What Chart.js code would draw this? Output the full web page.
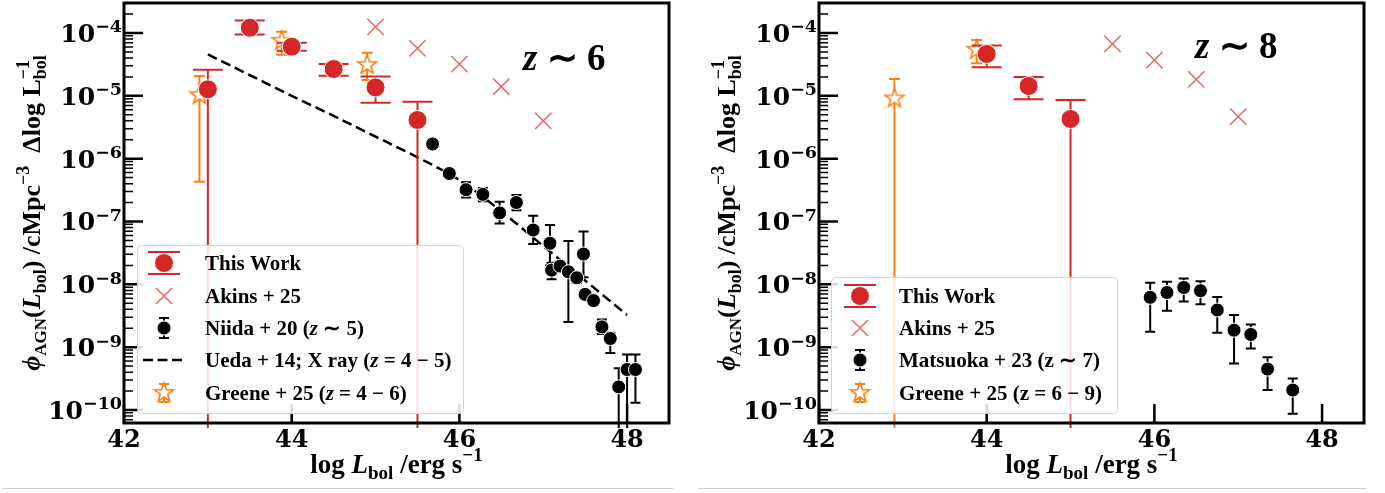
<!DOCTYPE html>
<html>
<head>
<meta charset="utf-8">
<title>AGN bolometric luminosity functions</title>
<script src="https://cdn.jsdelivr.net/npm/chart.js@4.4.1/dist/chart.umd.min.js"></script>
<style>
  body { margin: 0; background: #fff; }
  #wrap { position: relative; width: 1385px; height: 493px; overflow: hidden; }
  canvas { position: absolute; top: 0; }
  #lf6 { left: 0; }
  #lf8 { left: 690px; }
  .rule { position: absolute; top: 488px; height: 0; border-top: 1px solid #cfcfcf; }
</style>
</head>
<body>
<div id="wrap">
  <canvas id="lf6" width="690" height="493"></canvas>
  <canvas id="lf8" width="695" height="493"></canvas>
  <div class="rule" style="left:3px;width:670px"></div>
  <div class="rule" style="left:698px;width:669px"></div>
</div>
<script>
// axes
const xTicks = [42, 44, 46, 48];
const yTicks = [1e-4, 1e-5, 1e-6, 1e-7, 1e-8, 1e-9, 1e-10];
const xRange = [42, 48.5];
const yRange = [6.2e-11, 3.0e-4];

// ---- z ~ 6 panel ----
const thisL6 = [43.0, 43.5, 44.0, 44.5, 45.0, 45.5];
const thisPhi6 = [1.27e-5, 1.21e-4, 6.05e-5, 2.67e-5, 1.36e-5, 4.12e-6];
const thisUp6 = [2.6e-5, 1.58e-4, 7.0e-5, 3.2e-5, 2.02e-5, 8.05e-6];
const thisLo6 = [0, 9.5e-5, 5.2e-5, 2.09e-5, 7.76e-6, 0];   // 0 = open down to the axis

const akinsL6 = [45.0, 45.5, 46.0, 46.5, 47.0];
const akinsPhi6 = [1.25e-4, 5.7e-5, 3.2e-5, 1.4e-5, 4.0e-6];

const greeneL6 = [42.9, 43.88, 44.9];
const greenePhi6 = [1.03e-5, 7.5e-5, 3.1e-5];
const greeneUp6 = [2.07e-5, 1.05e-4, 4.85e-5];
const greeneLo6 = [4.3e-7, 4.5e-5, 1.79e-5];

const niidaL = [45.68, 45.88, 46.08, 46.28, 46.48, 46.68, 46.88, 47.08, 47.10, 47.20,
                47.30, 47.40, 47.48, 47.50, 47.60, 47.70, 47.80, 47.90, 48.00, 48.10];
const niidaPhi = [1.71e-6, 5.8e-7, 3.2e-7, 2.7e-7, 1.37e-7, 2.0e-7, 7.3e-8, 4.5e-8, 1.68e-8, 1.95e-8,
                  1.58e-8, 1.27e-8, 3.03e-8, 6.9e-9, 5.5e-9, 2.1e-9, 1.37e-9, 2.33e-10, 4.4e-10, 4.4e-10];
const niidaUp = [1.9e-6, 6.4e-7, 4.2e-7, 3.4e-7, 2.06e-7, 2.63e-7, 1.23e-7, 8.8e-8, 2.2e-8, 2.3e-8,
                 4.9e-8, 1.5e-8, 6.9e-8, 8.0e-9, 6.3e-9, 2.75e-9, 1.7e-9, 4.6e-10, 7.65e-10, 7.65e-10];
const niidaLo = [1.5e-6, 5.2e-7, 2.4e-7, 2.1e-7, 9.3e-8, 1.51e-7, 4.37e-8, 2.0e-8, 1.2e-8, 1.6e-8,
                 2.5e-9, 1.05e-8, 1.3e-8, 6.0e-9, 4.7e-9, 1.62e-9, 8.1e-10, 0, 0, 1.3e-10];

const uedaL = [43.0, 43.5, 44.0, 44.5, 45.0, 45.5, 46.0, 46.5, 47.0, 47.5, 48.0];
const uedaPhi = [4.57e-5, 2.14e-5, 1.0e-5, 4.79e-6, 2.24e-6, 1.05e-6, 4.57e-7, 1.45e-7, 4.07e-8, 1.15e-8, 3.24e-9];

// ---- z ~ 8 panel ----
const thisL8 = [44.0, 44.5, 45.0];
const thisPhi8 = [4.63e-5, 1.43e-5, 4.28e-6];
const thisUp8 = [6.3e-5, 2.0e-5, 8.6e-6];
const thisLo8 = [2.84e-5, 8.8e-6, 0];

const akinsL8 = [45.5, 46.0, 46.5, 47.0];
const akinsPhi8 = [6.7e-5, 3.7e-5, 1.83e-5, 4.66e-6];

const greeneL8 = [42.9, 43.88];
const greenePhi8 = [9.1e-6, 5.4e-5];
const greeneUp8 = [1.85e-5, 7.7e-5];
const greeneLo8 = [0, 3.3e-5];

const matsL = [45.95, 46.15, 46.35, 46.55, 46.75, 46.95, 47.15, 47.35, 47.65];
const matsPhi = [6.2e-9, 7.4e-9, 8.9e-9, 7.9e-9, 3.9e-9, 1.86e-9, 1.59e-9, 4.47e-10, 2.07e-10];
const matsUp = [1.06e-8, 1.1e-8, 1.24e-8, 1.12e-8, 6.3e-9, 3.24e-9, 2.3e-9, 6.9e-10, 3.16e-10];
const matsLo = [1.75e-9, 3.8e-9, 5.3e-9, 4.8e-9, 1.69e-9, 5.5e-10, 9.5e-10, 2.07e-10, 8.7e-11];

const RED = '#d62728';
const CROSS = 'rgba(214,39,40,0.7)';
const ORANGE = '#ff7f0e';
const SERIF = '"Liberation Serif", "Times New Roman", serif';
const TICKFONT = '"DejaVu Serif", serif';

function pts(xs, ys) {
    return xs.map((x, i) => ({ x: x, y: ys[i] }));
}

function makeStar(r) {
    const size = Math.ceil(2 * r + 6);
    const c = document.createElement('canvas');
    c.width = size; c.height = size;
    const g = c.getContext('2d');
    g.translate(size / 2, size / 2);
    g.beginPath();
    for (let i = 0; i < 10; i++) {
        const rr = i % 2 ? r * 0.4 : r;
        const a = -Math.PI / 2 + i * Math.PI / 5;
        g.lineTo(rr * Math.cos(a), rr * Math.sin(a));
    }
    g.closePath();
    g.fillStyle = '#fff';
    g.fill();
    g.strokeStyle = ORANGE;
    g.lineWidth = 1.6;
    g.stroke();
    return c;
}
const starImg = makeStar(10);

function fnt(s, italic, fam) {
    return (italic ? 'italic ' : '') + 'bold ' + s + 'px ' + (fam || SERIF);
}

// lay out a run of text pieces (sub/superscripts via dy, "back" stacks on the previous piece)
function layoutRich(ctx, segs) {
    let end = 0, prev = 0;
    const out = [];
    segs.forEach(g => {
        ctx.font = fnt(g.s, g.i, g.f);
        const w = ctx.measureText(g.t).width;
        const sx = g.back ? prev : end;
        out.push({ g: g, sx: sx });
        prev = sx;
        end = Math.max(end, sx + w);
    });
    return { out: out, width: end };
}

function drawRich(ctx, x, y, segs, align) {
    const lay = layoutRich(ctx, segs);
    let x0 = x;
    if (align === 'center') x0 = x - lay.width / 2;
    if (align === 'right') x0 = x - lay.width;
    ctx.textAlign = 'left';
    ctx.textBaseline = 'alphabetic';
    lay.out.forEach(o => {
        ctx.font = fnt(o.g.s, o.g.i, o.g.f);
        ctx.fillText(o.g.t, x0 + o.sx, y + (o.g.dy || 0));
    });
}

// error bars are drawn right before their own dataset
const errorBarPlugin = {
    id: 'errorBars',
    beforeDatasetDraw(chart, args) {
        const ds = chart.data.datasets[args.index];
        const eb = ds.errorBars;
        if (!eb) return;
        const ctx = chart.ctx, a = chart.chartArea;
        const xs = chart.scales.x, ys = chart.scales.y;
        ctx.save();
        ctx.beginPath();
        ctx.rect(a.left, a.top, a.right - a.left, a.bottom - a.top + 5);
        ctx.clip();
        ctx.strokeStyle = eb.color;
        ctx.lineWidth = eb.width;
        ds.data.forEach((p, i) => {
            const px = xs.getPixelForValue(p.x);
            const top = ys.getPixelForValue(eb.up[i]);
            const open = !(eb.lo[i] > 0);
            const bot = open ? a.bottom + 5 : ys.getPixelForValue(eb.lo[i]);
            ctx.beginPath();
            ctx.moveTo(px, top);
            ctx.lineTo(px, bot);
            ctx.moveTo(px - eb.cap, top);
            ctx.lineTo(px + eb.cap, top);
            if (!open) {
                ctx.moveTo(px - eb.cap, bot);
                ctx.lineTo(px + eb.cap, bot);
            }
            ctx.stroke();
        });
        ctx.restore();
    }
};

function legendMark(ctx, kind, x, y) {
    ctx.save();
    if (kind === 'this') {
        ctx.strokeStyle = RED; ctx.lineWidth = 2;
        ctx.beginPath();
        ctx.moveTo(x, y - 11); ctx.lineTo(x, y + 11);
        ctx.moveTo(x - 16, y - 11); ctx.lineTo(x + 16, y - 11);
        ctx.moveTo(x - 16, y + 11); ctx.lineTo(x + 16, y + 11);
        ctx.stroke();
        ctx.beginPath(); ctx.arc(x, y, 9.5, 0, Math.PI * 2);
        ctx.fillStyle = RED; ctx.fill();
        ctx.strokeStyle = '#fff'; ctx.lineWidth = 1; ctx.stroke();
    } else if (kind === 'akins') {
        ctx.strokeStyle = CROSS; ctx.lineWidth = 1.5;
        ctx.beginPath();
        ctx.moveTo(x - 8, y - 8); ctx.lineTo(x + 8, y + 8);
        ctx.moveTo(x - 8, y + 8); ctx.lineTo(x + 8, y - 8);
        ctx.stroke();
    } else if (kind === 'black') {
        ctx.strokeStyle = '#000'; ctx.lineWidth = 2;
        ctx.beginPath();
        ctx.moveTo(x, y - 10); ctx.lineTo(x, y + 10);
        ctx.moveTo(x - 5, y - 10); ctx.lineTo(x + 5, y - 10);
        ctx.moveTo(x - 5, y + 10); ctx.lineTo(x + 5, y + 10);
        ctx.stroke();
        ctx.beginPath(); ctx.arc(x, y, 7, 0, Math.PI * 2);
        ctx.fillStyle = '#000'; ctx.fill();
        ctx.strokeStyle = '#fff'; ctx.lineWidth = 1; ctx.stroke();
    } else if (kind === 'dash') {
        ctx.strokeStyle = '#000'; ctx.lineWidth = 2.5;
        ctx.setLineDash([10, 4.5]);
        ctx.beginPath(); ctx.moveTo(x - 21, y); ctx.lineTo(x + 19, y); ctx.stroke();
    } else if (kind === 'star') {
        ctx.strokeStyle = ORANGE; ctx.lineWidth = 2;
        ctx.beginPath();
        ctx.moveTo(x, y - 9); ctx.lineTo(x, y + 9);
        ctx.moveTo(x - 5, y - 9); ctx.lineTo(x + 5, y - 9);
        ctx.moveTo(x - 5, y + 9); ctx.lineTo(x + 5, y + 9);
        ctx.stroke();
        ctx.drawImage(starImg, x - starImg.width / 2, y - starImg.height / 2);
    }
    ctx.restore();
}

function panelPlugin(cfg) {
    return {
        id: 'panel',
        afterDatasetsDraw(chart) {
            const ctx = chart.ctx, a = chart.chartArea;
            const xs = chart.scales.x, ys = chart.scales.y;
            ctx.save();
            ctx.strokeStyle = '#000';
            // minor log ticks
            ctx.lineWidth = 1.5;
            ctx.beginPath();
            for (let e = -11; e <= -4; e++) {
                for (let m = 2; m <= 9; m++) {
                    const v = m * Math.pow(10, e);
                    if (v <= yRange[0] || v >= yRange[1]) continue;
                    const py = ys.getPixelForValue(v);
                    ctx.moveTo(a.left, py); ctx.lineTo(a.left + 9, py);
                }
            }
            ctx.stroke();
            // major ticks, pointing inward
            ctx.lineWidth = 2.5;
            ctx.beginPath();
            yTicks.forEach(v => {
                const py = ys.getPixelForValue(v);
                ctx.moveTo(a.left, py); ctx.lineTo(a.left + 19, py);
            });
            xTicks.forEach(v => {
                const px = xs.getPixelForValue(v);
                ctx.moveTo(px, a.bottom); ctx.lineTo(px, a.bottom - 19);
            });
            ctx.stroke();
            ctx.lineWidth = 3;
            ctx.strokeRect(a.left, a.top, a.right - a.left, a.bottom - a.top);
            ctx.restore();
        },
        afterDraw(chart) {
            const ctx = chart.ctx, a = chart.chartArea;
            const xs = chart.scales.x, ys = chart.scales.y;
            ctx.save();
            ctx.fillStyle = '#000';
            // tick labels
            yTicks.forEach(v => {
                const py = ys.getPixelForValue(v);
                const ex = Math.round(Math.log10(v));
                drawRich(ctx, a.left - 2, py + 9, [
                    { t: '10', s: 25, f: TICKFONT },
                    { t: '\u2212' + Math.abs(ex), s: 17.5, f: TICKFONT, dy: -9.5 }
                ], 'right');
            });
            xTicks.forEach(v => {
                drawRich(ctx, xs.getPixelForValue(v), 447, [{ t: String(v), s: 24, f: TICKFONT }], 'center');
            });
            // axis titles
            drawRich(ctx, (a.left + a.right) / 2, 473, [
                { t: 'log ', s: 27 },
                { t: 'L', s: 27, i: true },
                { t: 'bol', s: 19, dy: 6 },
                { t: ' /erg s', s: 27 },
                { t: '\u22121', s: 19, dy: -12 }
            ], 'center');
            ctx.save();
            ctx.translate(a.left - 84, (a.top + a.bottom) / 2);
            ctx.rotate(-Math.PI / 2);
            drawRich(ctx, 0, 0, [
                { t: '\u03d5', s: 26, i: true },
                { t: 'AGN', s: 17, dy: 6 },
                { t: '(', s: 26 },
                { t: 'L', s: 26, i: true },
                { t: 'bol', s: 18, dy: 6 },
                { t: ') /cMpc', s: 26 },
                { t: '\u22123', s: 18, dy: -11 },
                { t: '  \u0394log L', s: 26 },
                { t: 'bol', s: 18, dy: 6 },
                { t: '\u22121', s: 18, dy: -11, back: true }
            ], 'center');
            ctx.restore();
            // redshift label
            drawRich(ctx, cfg.zx, cfg.zy, [
                { t: 'z', s: 37, i: true },
                { t: ' \u223c ' + cfg.z, s: 37 }
            ], 'left');
            // legend
            const b = cfg.legend.box;
            ctx.beginPath();
            ctx.roundRect(b[0] + 0.5, b[1] + 0.5, b[2], b[3], 4);
            ctx.fillStyle = 'rgba(255,255,255,0.85)';
            ctx.fill();
            ctx.strokeStyle = '#d4d4d4';
            ctx.lineWidth = 1;
            ctx.stroke();
            ctx.fillStyle = '#000';
            cfg.legend.rows.forEach(r => {
                legendMark(ctx, r.mark, cfg.legend.mx, r.y);
                drawRich(ctx, cfg.legend.tx, r.y + 7, r.segs.map(s => ({ t: s.t, i: s.i, s: 21 })), 'left');
            });
            ctx.restore();
        }
    };
}

function panelOptions(pad) {
    return {
        responsive: false,
        animation: false,
        devicePixelRatio: 1,
        layout: { padding: pad, autoPadding: false },
        plugins: { legend: { display: false }, tooltip: { enabled: false } },
        scales: {
            x: { type: 'linear', min: xRange[0], max: xRange[1], display: false },
            y: { type: 'logarithmic', min: yRange[0], max: yRange[1], display: false }
        }
    };
}

function thisWork(xs, ys, up, lo) {
    return {
        label: 'This Work', data: pts(xs, ys),
        pointRadius: 9.5, pointBackgroundColor: RED, pointBorderColor: '#fff', pointBorderWidth: 1,
        errorBars: { up: up, lo: lo, color: RED, cap: 15, width: 2 }
    };
}
function akins(xs, ys) {
    return {
        label: 'Akins + 25', data: pts(xs, ys),
        pointStyle: 'crossRot', pointRadius: 11.5, pointBorderColor: CROSS, pointBorderWidth: 1.5
    };
}
function greene(label, xs, ys, up, lo) {
    return {
        label: label, data: pts(xs, ys),
        pointStyle: starImg, pointRadius: 10,
        errorBars: { up: up, lo: lo, color: ORANGE, cap: 5.5, width: 2 }
    };
}
function blackPts(label, xs, ys, up, lo) {
    return {
        label: label, data: pts(xs, ys),
        pointRadius: 7, pointBackgroundColor: '#000', pointBorderColor: '#fff', pointBorderWidth: 1,
        errorBars: { up: up, lo: lo, color: '#000', cap: 5, width: 2 }
    };
}

new Chart(document.getElementById('lf6'), {
    type: 'scatter',
    data: {
        datasets: [
            thisWork(thisL6, thisPhi6, thisUp6, thisLo6),
            akins(akinsL6, akinsPhi6),
            greene('Greene + 25 (z = 4 - 6)', greeneL6, greenePhi6, greeneUp6, greeneLo6),
            blackPts('Niida + 20 (z ~ 5)', niidaL, niidaPhi, niidaUp, niidaLo),
            {
                label: 'Ueda + 14; X ray (z = 4 - 5)', data: pts(uedaL, uedaPhi),
                showLine: true, pointRadius: 0, borderColor: '#000', borderWidth: 2.5,
                borderDash: [10, 5], cubicInterpolationMode: 'monotone'
            }
        ]
    },
    options: panelOptions({ left: 124, top: 3, right: 21, bottom: 70 }),
    plugins: [errorBarPlugin, panelPlugin({
        z: '6', zx: 523, zy: 70,
        legend: {
            box: [137, 245, 326, 168], mx: 164, tx: 205,
            rows: [
                { y: 263, mark: 'this', segs: [{ t: 'This Work' }] },
                { y: 296, mark: 'akins', segs: [{ t: 'Akins + 25' }] },
                { y: 328, mark: 'black', segs: [{ t: 'Niida + 20 (' }, { t: 'z', i: true }, { t: ' \u223c 5)' }] },
                { y: 360, mark: 'dash', segs: [{ t: 'Ueda + 14; X ray (' }, { t: 'z', i: true }, { t: ' = 4 \u2212 5)' }] },
                { y: 393, mark: 'star', segs: [{ t: 'Greene + 25 (' }, { t: 'z', i: true }, { t: ' = 4 \u2212 6)' }] }
            ]
        }
    })]
});

new Chart(document.getElementById('lf8'), {
    type: 'scatter',
    data: {
        datasets: [
            thisWork(thisL8, thisPhi8, thisUp8, thisLo8),
            akins(akinsL8, akinsPhi8),
            greene('Greene + 25 (z = 6 - 9)', greeneL8, greenePhi8, greeneUp8, greeneLo8),
            blackPts('Matsuoka + 23 (z ~ 7)', matsL, matsPhi, matsUp, matsLo)
        ]
    },
    options: panelOptions({ left: 129, top: 3, right: 21, bottom: 70 }),
    plugins: [errorBarPlugin, panelPlugin({
        z: '8', zx: 505, zy: 58,
        legend: {
            box: [141, 277, 286, 136], mx: 170, tx: 209,
            rows: [
                { y: 296, mark: 'this', segs: [{ t: 'This Work' }] },
                { y: 328, mark: 'akins', segs: [{ t: 'Akins + 25' }] },
                { y: 360, mark: 'black', segs: [{ t: 'Matsuoka + 23 (z \u223c 7)' }] },
                { y: 393, mark: 'star', segs: [{ t: 'Greene + 25 (z = 6 \u2212 9)' }] }
            ]
        }
    })]
});
</script>
</body>
</html>
